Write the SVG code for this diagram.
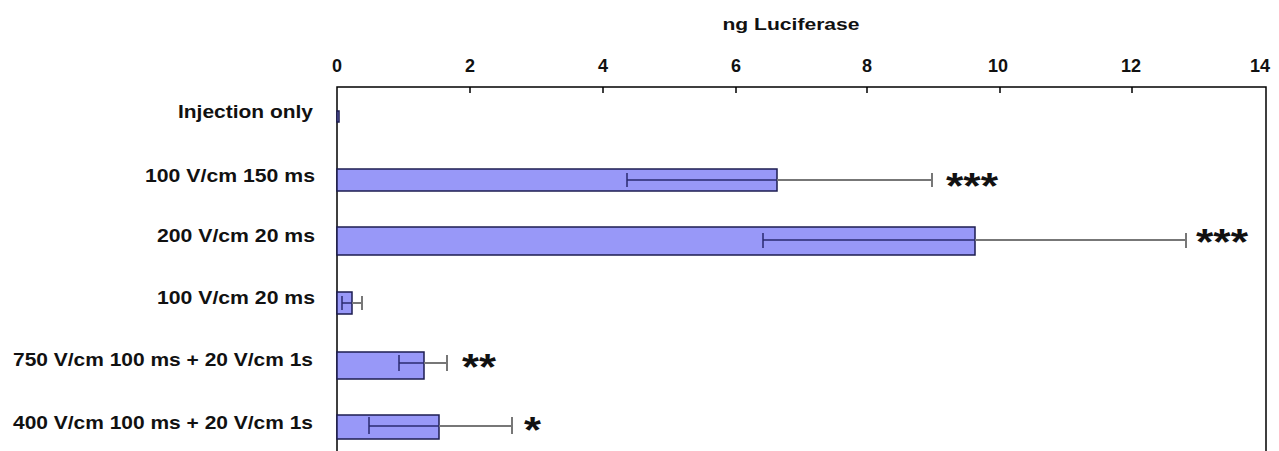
<svg xmlns="http://www.w3.org/2000/svg" width="1279" height="451" viewBox="0 0 1279 451">
<style>
text{font-family:"Liberation Sans",Arial,sans-serif;font-weight:bold;fill:#111}
.lab{font-size:19px;text-anchor:end}
.tick{font-size:18px;text-anchor:middle}
.bar{fill:#9898f8;stroke:#1c1c50;stroke-width:1.5}
.axis{stroke:#000;stroke-width:1.5;fill:none}
.ein{stroke:#2a2a70;stroke-width:1.5;fill:none}
.eout{stroke:#777;stroke-width:2;fill:none}
.star{font-size:36px;text-anchor:start}
</style>
<rect width="1279" height="451" fill="#fff"/>
<g id="axis">
<text x="791" y="30" font-size="17" text-anchor="middle" textLength="137" lengthAdjust="spacingAndGlyphs">ng Luciferase</text>
<path class="axis" d="M337,451 V87 H1266 V451"/>
<path class="axis" d="M470,87v6M603,87v6M736,87v6M867,87v6M1000,87v6M1132,87v6"/>
<text class="tick" x="337" y="72">0</text>
<text class="tick" x="470" y="72">2</text>
<text class="tick" x="603" y="72">4</text>
<text class="tick" x="736" y="72">6</text>
<text class="tick" x="867" y="72">8</text>
<text class="tick" x="998" y="72">10</text>
<text class="tick" x="1131" y="72">12</text>
<text class="tick" x="1260" y="72">14</text>
</g>
<g id="labels">
<text class="lab" x="313" y="118" textLength="135" lengthAdjust="spacingAndGlyphs">Injection only</text>
<text class="lab" x="315" y="182" textLength="170" lengthAdjust="spacingAndGlyphs">100 V/cm 150 ms</text>
<text class="lab" x="315" y="242" textLength="158" lengthAdjust="spacingAndGlyphs">200 V/cm 20 ms</text>
<text class="lab" x="315" y="304" textLength="158" lengthAdjust="spacingAndGlyphs">100 V/cm 20 ms</text>
<text class="lab" x="313" y="366" textLength="300" lengthAdjust="spacingAndGlyphs">750 V/cm 100 ms + 20 V/cm 1s</text>
<text class="lab" x="313" y="429" textLength="300" lengthAdjust="spacingAndGlyphs">400 V/cm 100 ms + 20 V/cm 1s</text>
</g>
<g id="bar-injection">
<rect class="bar" x="337" y="111" width="2" height="11"/>
</g>
<g id="bar-100-150">
<rect class="bar" x="337" y="169" width="440" height="22"/>
<path class="ein" d="M627,173v14M627,180H777"/>
<path class="eout" d="M777,180H932M932,173v14"/>
<text class="star" x="946" y="199" textLength="52" lengthAdjust="spacingAndGlyphs">***</text>
</g>
<g id="bar-200-20">
<rect class="bar" x="337" y="227" width="638" height="28"/>
<path class="ein" d="M763,233v15M763,240H975"/>
<path class="eout" d="M975,240H1186M1186,233v15"/>
<text class="star" x="1196" y="255" textLength="52" lengthAdjust="spacingAndGlyphs">***</text>
</g>
<g id="bar-100-20">
<rect class="bar" x="337" y="292" width="15" height="22"/>
<path class="ein" d="M342,296v14M342,303H352"/>
<path class="eout" d="M352,303H362M362,296v14"/>
</g>
<g id="bar-750">
<rect class="bar" x="337" y="352" width="87" height="27"/>
<path class="ein" d="M399,355v16M399,363H424"/>
<path class="eout" d="M424,363H447M447,355v16"/>
<text class="star" x="462" y="380" textLength="34" lengthAdjust="spacingAndGlyphs">**</text>
</g>
<g id="bar-400">
<rect class="bar" x="337" y="415" width="102" height="24"/>
<path class="ein" d="M369,417v17M369,426H439"/>
<path class="eout" d="M439,426H512M512,417v17"/>
<text class="star" x="524" y="443" textLength="17" lengthAdjust="spacingAndGlyphs">*</text>
</g>
</svg>
